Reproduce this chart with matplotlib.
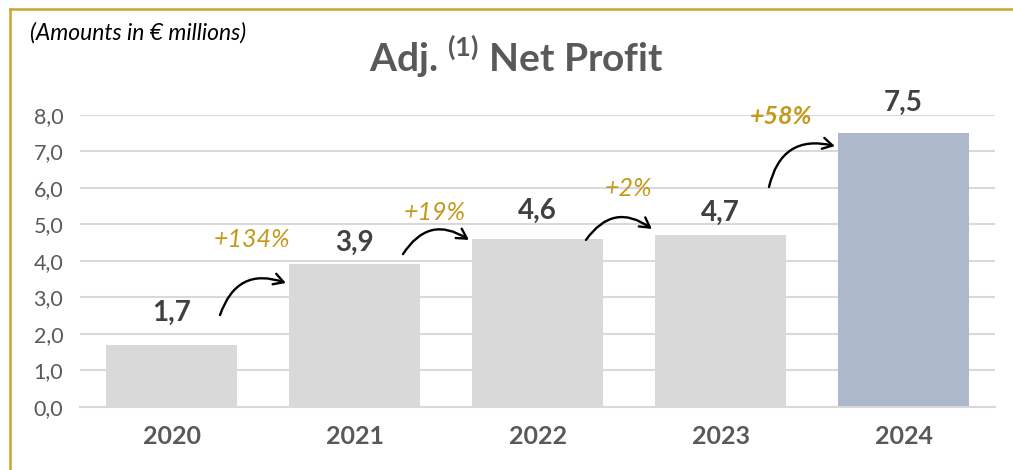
import matplotlib
matplotlib.use('Agg')
from matplotlib import pyplot as plt
from matplotlib.lines import Line2D

years = ['2020', '2021', '2022', '2023', '2024']
profit = [1.7, 3.9, 4.6, 4.7, 7.5]
growth = ['+134%', '+19%', '+2%', '+58%']
yticks = [0, 1, 2, 3, 4, 5, 6, 7, 8]

# annotation placement (label offsets in px, arrow ends relative to bars)
label_dy = [32, 21, 28, 22, 30]
growth_x = [0.44, 1.44, 2.50, 3.33]
growth_y = [4.57, 5.33, 5.99, 7.94]
growth_w = ['normal', 'normal', 'normal', 'bold']
arrow_start_dy = [0.81, 0.28, -0.03, 1.32]
arrow_end_dy = [-0.51, -0.03, 0.17, -0.36]

plt.rcParams['font.family'] = ['Lato', 'DejaVu Sans']
plt.rcParams['mathtext.fontset'] = 'custom'
plt.rcParams['mathtext.rm'] = 'Lato:bold'

gold = '#C49A1C'
grid_c = '#D9D9D9'

fig = plt.figure(figsize=(10.13, 4.70), dpi=100)
ax = fig.add_axes([80 / 1013, (470 - 406.7) / 470, 915 / 1013, (406.7 - 114.7) / 470])

colors = ['#D9D9D9'] * 4 + ['#ADB9CA']
x = list(range(len(years)))
ax.bar(x, profit, width=0.716, color=colors, zorder=2)

ax.set_xlim(-0.5, 4.5)
ax.set_ylim(0, 8)
ax.set_yticks(yticks)
ax.set_yticklabels([('%.1f' % v).replace('.', ',') for v in yticks])
ax.set_xticks(x)
ax.set_xticklabels(years, fontsize=18, fontweight='bold', color='#595959')
ax.tick_params(axis='y', length=0, pad=12, labelsize=15.5, labelcolor='#595959')
ax.tick_params(axis='x', length=0, pad=13)
ax.grid(axis='y', color=grid_c, lw=1.5, zorder=0)
ax.set_axisbelow(True)
for s in ['top', 'right', 'left']:
    ax.spines[s].set_visible(False)
ax.spines['bottom'].set_color(grid_c)
ax.spines['bottom'].set_linewidth(1.5)
ax.spines['bottom'].set_zorder(3)

for i, v in enumerate(profit):
    ax.annotate(('%.1f' % v).replace('.', ','), (i, v), xytext=(0, label_dy[i] * 0.72),
                textcoords='offset points', ha='center', va='center',
                fontsize=20, fontweight='bold', color='#404040', annotation_clip=False)

for i, g in enumerate(growth):
    ax.text(growth_x[i], growth_y[i], g, ha='center', va='center', fontsize=18,
            style='italic', fontweight=growth_w[i], color=gold, clip_on=False)
    x0 = i + 0.265
    x1 = i + 1 - 0.375
    ax.annotate('', xy=(x1, profit[i + 1] + arrow_end_dy[i]),
                xytext=(x0, profit[i] + arrow_start_dy[i]),
                arrowprops=dict(arrowstyle='->,head_length=0.7,head_width=0.4', color='black',
                                lw=1.7, connectionstyle='arc3,rad=-0.5',
                                shrinkA=0, shrinkB=0),
                annotation_clip=False)

fig.text(0.51, 1 - 57 / 470, r'Adj. $^{(1)}$ Net Profit', ha='center', va='center',
         fontsize=28, fontweight='bold', color='#595959')
fig.text(30 / 1013, 1 - 33 / 470, '(Amounts in € millions)', ha='left', va='center',
         fontsize=16.5, style='italic', color='black')

# frame lines
fig.add_artist(Line2D([10 / 1013, 1], [1 - 9 / 470, 1 - 9 / 470], color='#CFA42A', lw=1.8))
fig.add_artist(Line2D([10 / 1013, 10 / 1013], [0, 1 - 9 / 470], color='#CFA42A', lw=1.8))

fig.savefig('out.png', dpi=100)
